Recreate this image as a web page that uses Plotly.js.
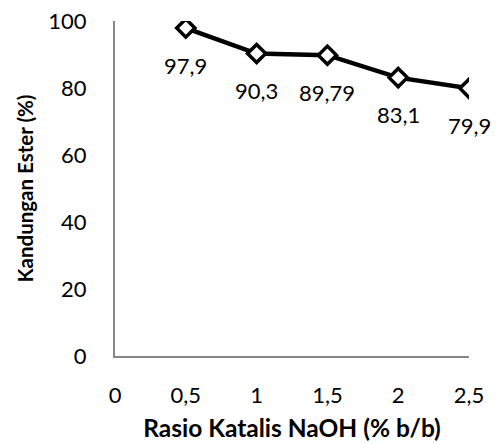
<!DOCTYPE html>
<html>
<head>
<meta charset="utf-8">
<script src="https://cdn.plot.ly/plotly-3.0.1.min.js"></script>
<style>html,body{margin:0;padding:0;background:#fff;}#chart{width:499px;height:443px;}</style>
</head>
<body>
<div id="chart"></div>
<script>
const ratios = [0.5, 1, 1.5, 2, 2.5];
const esterContent = [97.9, 90.3, 89.79, 83.1, 79.9];
const xTickValues = [0, 0.5, 1, 1.5, 2, 2.5];
const xTickLabels = ["0", "0,5", "1", "1,5", "2", "2,5"];
const yTickValues = [0, 20, 40, 60, 80, 100];
const xTitle = "Rasio Katalis NaOH (% b/b)";
const yTitle = "Kandungan Ester (%)";

const FONT = "Lato, 'Open Sans', sans-serif";
const fmt = v => String(v).replace('.', ',');

const trace = {
  x: ratios,
  y: esterContent,
  type: 'scatter',
  mode: 'lines+markers',
  line: {color: '#000000', width: 4.5},
  marker: {symbol: 'diamond', size: 14, color: '#ffffff', line: {color: '#000000', width: 3.5}},
  hoverinfo: 'x+y'
};

const annotations = ratios.map((x, i) => ({
  x: x, y: esterContent[i], xref: 'x', yref: 'y',
  text: fmt(esterContent[i]), showarrow: false,
  yshift: -37, font: {family: FONT, size: 22, color: '#000000'}
}));

const layout = {
  width: 499, height: 443,
  margin: {l: 115, r: 30, t: 21, b: 87, pad: 0},
  paper_bgcolor: '#ffffff', plot_bgcolor: '#ffffff',
  showlegend: false,
  separators: ',.',
  font: {family: FONT, size: 22, color: '#000000'},
  xaxis: {
    range: [0, 2.5], tickvals: xTickValues, ticktext: xTickLabels,
    showgrid: false, zeroline: false, showline: true, linecolor: '#868686', linewidth: 2,
    ticks: 'outside', ticklen: 19, tickcolor: 'rgba(0,0,0,0)',
    tickfont: {family: FONT, size: 22, color: '#000000'},
    title: {text: xTitle, font: {family: FONT, size: 24.5, color: '#000000', weight: 700}, standoff: 12},
    fixedrange: true
  },
  yaxis: {
    range: [0, 100], tickvals: yTickValues,
    showgrid: false, zeroline: false, showline: true, linecolor: '#868686', linewidth: 2,
    ticks: 'outside', ticklen: 22, tickcolor: 'rgba(0,0,0,0)',
    tickfont: {family: FONT, size: 22, color: '#000000'},
    title: {text: yTitle, font: {family: FONT, size: 20.5, color: '#000000', weight: 700}, standoff: 9},
    fixedrange: true
  },
  annotations: annotations
};

Plotly.newPlot('chart', [trace], layout, {displayModeBar: false, staticPlot: true});
</script>
</body>
</html>
